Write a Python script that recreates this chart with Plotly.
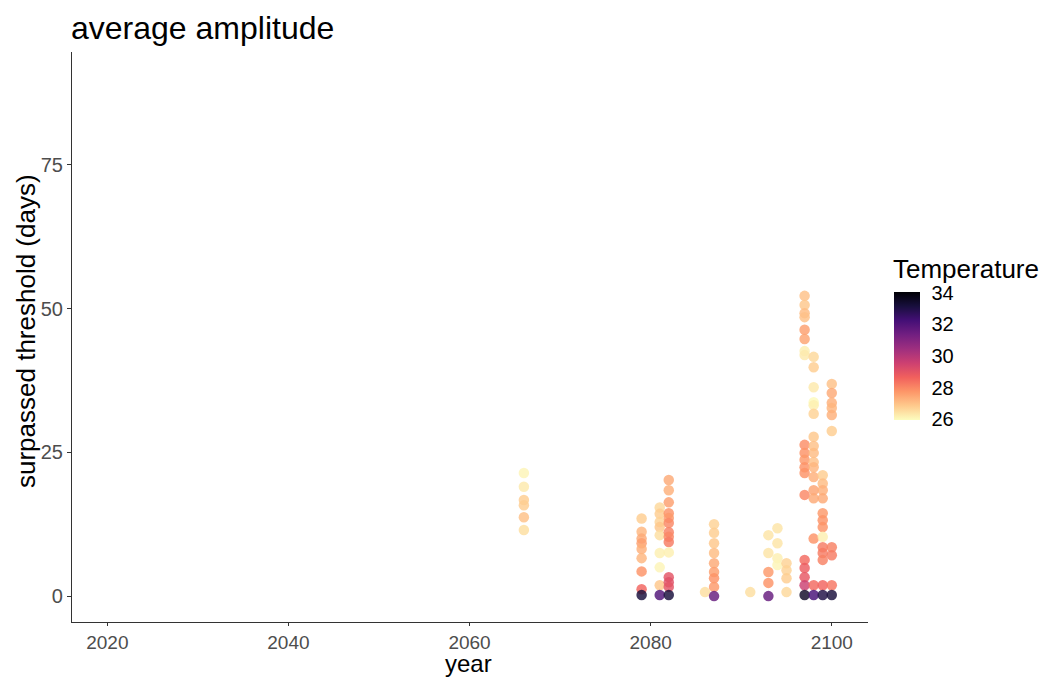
import plotly.graph_objects as go

year = ([2066]*6 + [2079]*9 + [2081]*9 + [2082]*14 + [2086] + [2087]*9 + [2091]
        + [2093]*5 + [2094]*4 + [2095]*4 + [2097]*19 + [2098]*17 + [2099]*13 + [2100]*10)

days = [21.4, 19.0, 16.7, 15.8, 13.7, 11.5,
        13.5, 11.2, 10.0, 9.2, 8.2, 6.6, 4.3, 1.2, 0.2,
        15.4, 14.3, 12.9, 12.0, 10.6, 7.5, 5.0, 1.9, 0.2,
        20.2, 18.4, 16.3, 14.4, 13.6, 12.7, 11.1, 10.3, 9.4, 7.6, 3.3, 2.4, 1.6, 0.2,
        0.7,
        12.5, 11.0, 9.2, 7.5, 5.7, 4.2, 3.1, 1.6, 0.0,
        0.7,
        10.6, 7.5, 4.2, 2.3, 0.0,
        11.8, 9.2, 6.6, 5.4,
        5.7, 4.5, 3.1, 0.7,
        52.2, 50.6, 49.2, 48.5, 46.3, 44.7, 42.6, 41.9, 26.3, 24.9, 23.7, 22.4, 21.4, 17.6, 6.3, 4.9, 3.3, 1.9, 0.2,
        41.6, 39.8, 36.3, 33.7, 33.2, 31.7, 27.7, 26.1, 24.9, 23.3, 22.4, 20.7, 18.4, 17.0, 10.0, 1.9, 0.2,
        21.0, 19.6, 18.4, 17.0, 14.4, 13.2, 12.0, 10.3, 8.5, 7.5, 6.3, 1.9, 0.2,
        36.9, 35.3, 33.6, 32.7, 31.5, 28.7, 8.5, 7.1, 1.9, 0.2]

temperature = [26.1, 26.3, 26.8, 26.8, 27.0, 26.5,
               26.8, 27.2, 27.4, 27.6, 27.3, 27.2, 27.8, 28.6, 33.2,
               26.6, 26.8, 26.7, 26.9, 26.5, 26.2, 26.1, 26.9, 32.0,
               27.4, 27.3, 27.6, 27.8, 27.7, 28.0, 28.1, 28.0, 28.2, 26.2, 29.0, 29.1, 29.0, 33.2,
               26.5,
               26.7, 26.8, 26.9, 27.1, 27.4, 27.6, 27.8, 27.7, 31.6,
               26.5,
               26.4, 26.4, 27.7, 27.8, 31.6,
               26.4, 26.4, 26.2, 26.1,
               26.7, 26.7, 26.8, 26.6,
               27.0, 26.9, 27.1, 27.0, 27.6, 27.5, 26.2, 26.3, 27.9, 27.8, 27.7, 27.8, 27.8, 28.0, 28.5, 28.8, 28.9, 29.6, 33.5,
               26.6, 26.8, 26.3, 26.0, 26.2, 26.7, 26.9, 27.0, 27.1, 27.0, 27.2, 27.3, 27.5, 27.4, 27.8, 28.5, 32.2,
               26.8, 27.1, 27.3, 27.4, 27.7, 27.8, 27.8, 26.2, 28.2, 28.2, 28.1, 28.6, 33.0,
               27.0, 27.4, 27.3, 27.2, 27.3, 26.8, 28.1, 28.2, 28.3, 33.2]

x_ticks = [2020, 2040, 2060, 2080, 2100]
y_ticks = [0, 25, 50, 75]
cbar_ticks = [26, 28, 30, 32, 34]

FONT = "Liberation Sans, Arial, sans-serif"

# page body has an 8px default margin; compensate
OFF = 8
W, H = 1050 - OFF, 678 - OFF
L, R, T, B = 72 - OFF, 182, 52 - OFF, 56
PW, PH = W - L - R, H - T - B

def px_x(px):  # absolute screen x -> paper x
    return (px - OFF - L) / PW

def px_y(py):  # absolute screen y -> paper y
    return (H - B - (py - OFF)) / PH

fig = go.Figure(go.Scatter(
    x=year, y=days, mode="markers",
    marker=dict(
        size=10.5, opacity=0.82, color=temperature,
        colorscale="Magma", reversescale=True, cmin=25.95, cmax=34.05,
        line=dict(width=0),
        colorbar=dict(
            tickvals=cbar_ticks, ticks="outside", ticklen=8, tickcolor="white",
            tickfont=dict(size=20, color="black", family=FONT),
            thickness=26, thicknessmode="pixels",
            len=128, lenmode="pixels",
            x=px_x(894), xanchor="left", y=px_y(356), yanchor="middle",
            outlinewidth=0, xpad=0, ypad=0,
        ),
    ),
    showlegend=False,
))

fig.update_layout(
    width=W, height=H,
    margin=dict(l=L, r=R, t=T, b=B, autoexpand=False),
    paper_bgcolor="white", plot_bgcolor="white",
    font=dict(family=FONT, color="black"),
    title=dict(text="average amplitude", x=(71 - OFF) / W, xanchor="left",
               y=1 - (28 - OFF) / H, yanchor="middle",
               font=dict(size=32, color="black", family=FONT)),
    annotations=[
        dict(text="Temperature", x=px_x(891), y=px_y(269), xref="paper", yref="paper",
             xanchor="left", yanchor="middle", showarrow=False,
             font=dict(size=26, color="black", family=FONT)),
        dict(text="surpassed threshold (days)", x=px_x(26), y=px_y(331), xref="paper", yref="paper",
             xanchor="center", yanchor="middle", textangle=-90, showarrow=False,
             font=dict(size=26, color="black", family=FONT)),
        dict(text="year", x=px_x(468), y=px_y(663), xref="paper", yref="paper",
             xanchor="center", yanchor="middle", showarrow=False,
             font=dict(size=24, color="black", family=FONT)),
    ],
)
fig.update_xaxes(
    range=[2016.1, 2104], tickvals=x_ticks, showgrid=False, zeroline=False,
    showline=True, linecolor="#333333", linewidth=1.2, automargin=False,
    ticks="outside", ticklen=3, tickcolor="#333333",
    tickfont=dict(size=19, color="#4D4D4D", family=FONT),
)
fig.update_yaxes(
    range=[-4.5, 94.6], tickvals=y_ticks, showgrid=False, zeroline=False,
    showline=True, linecolor="#333333", linewidth=1.2, automargin=False,
    ticks="outside", ticklen=4, tickcolor="#333333",
    tickfont=dict(size=20, color="#4D4D4D", family=FONT),
)

fig.write_html("out.html")
